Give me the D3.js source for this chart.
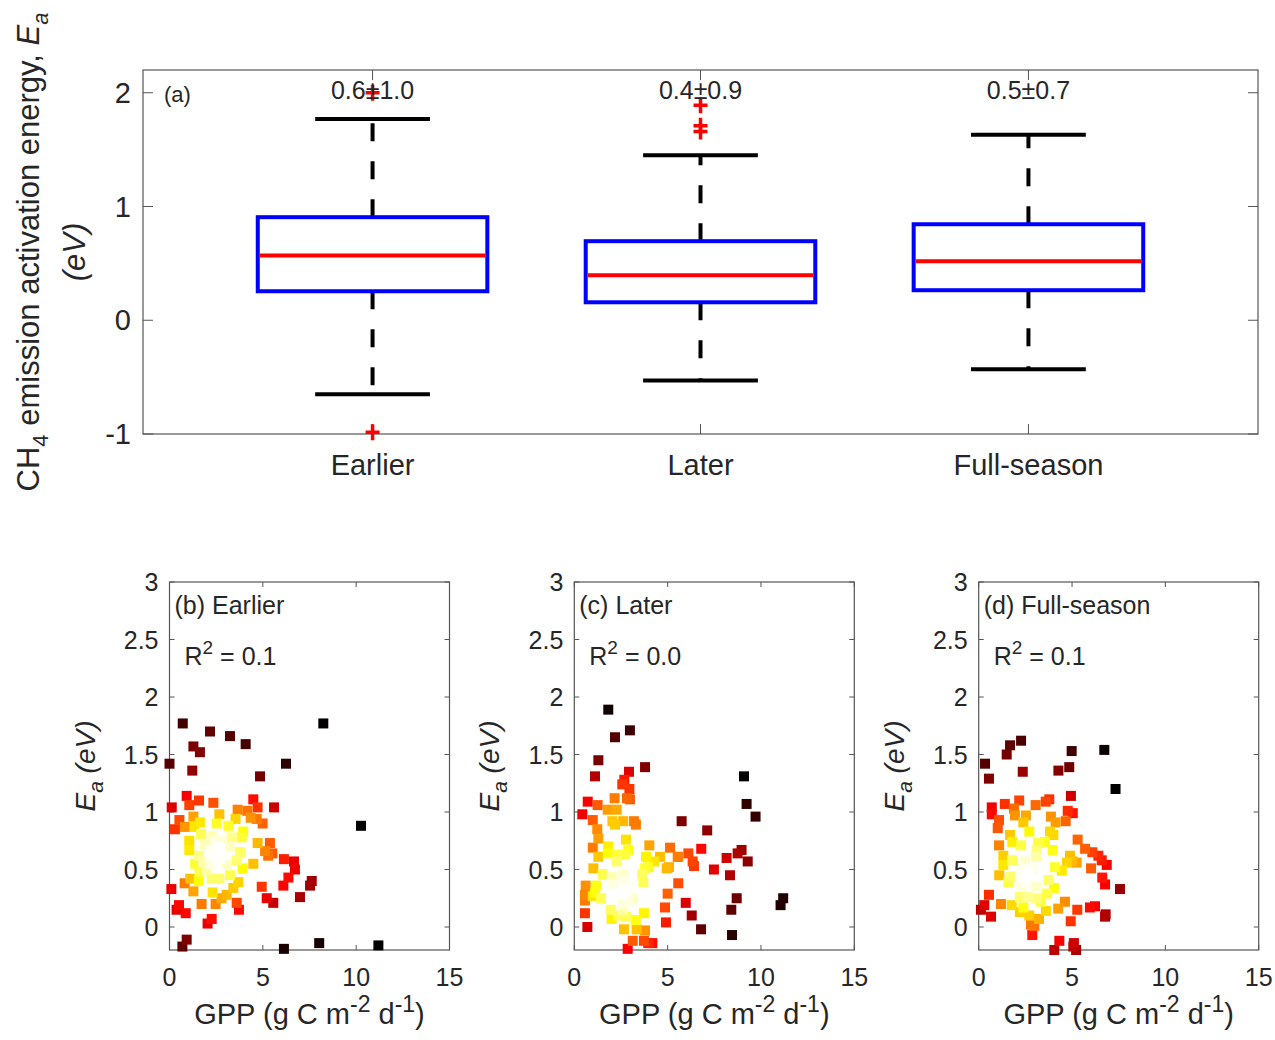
<!DOCTYPE html>
<meta charset="utf-8">
<title>CH4 activation energy</title>
<head>
  <script src="https://d3js.org/d3.v7.min.js"></script>
  <style>
    body { margin: 0; background: #fff; }
    text { font-family: "Liberation Sans", Arial, Helvetica, sans-serif; fill: #262626; }
  </style>
</head>
<body>
<div id="chart"></div>
<script>
// ---- panel (a) box plot data ----
var boxCats = ["Earlier", "Later", "Full-season"];
var boxQ1 = [0.255, 0.158, 0.264];
var boxMed = [0.57, 0.396, 0.519];
var boxQ3 = [0.906, 0.695, 0.844];
var whiskLo = [-0.65, -0.53, -0.43];
var whiskHi = [1.77, 1.45, 1.63];
var boxOutliers = [[2.0, -0.985], [1.89, 1.71, 1.66], []];
var meanSd = ["0.6\u00b11.0", "0.4\u00b10.9", "0.5\u00b10.7"];
var boxYTicks = [-1, 0, 1, 2];

// ---- panels (b)-(d) scatter data: GPP (g C m-2 d-1) vs Ea (eV) ----
var earlierGPP = [0.71,2.17,3.24,4.08,1.28,1.63,0.0,1.22,6.24,4.85,
  0.92,1.58,1.06,2.35,0.12,4.49,4.72,5.60,3.65,4.17,
  2.67,0.53,1.28,1.63,0.29,0.83,2.53,3.15,3.54,4.35,
  4.67,4.99,3.95,1.33,1.69,2.26,2.79,3.33,3.87,1.06,
  4.72,5.38,5.12,5.51,5.29,1.06,3.78,1.58,2.17,2.70,
  3.24,3.60,1.37,2.17,3.06,2.70,4.49,6.13,6.67,6.72,
  3.92,1.60,3.24,6.37,1.11,2.26,2.67,1.56,3.69,7.62,
  7.53,0.81,0.10,4.94,6.10,1.28,2.31,3.42,3.06,2.79,
  6.99,5.21,5.56,1.72,2.47,0.51,0.38,0.87,3.60,3.72,
  2.26,2.04,0.92,0.69,6.13,8.02,11.19,8.24,10.26,
  1.9,2.2,2.5,1.8,2.4,2.9,2.0,2.6];
var earlierEa = [1.77,1.70,1.66,1.59,1.57,1.52,1.42,1.36,1.42,1.31,
  1.14,1.10,1.06,1.08,1.04,1.11,1.04,1.04,1.02,1.01,
  0.98,0.93,0.96,0.91,0.85,0.87,0.90,0.88,0.94,0.95,
  0.94,0.90,0.83,0.87,0.81,0.79,0.75,0.78,0.78,0.75,
  0.73,0.73,0.66,0.64,0.62,0.67,0.65,0.62,0.67,0.68,
  0.70,0.58,0.55,0.55,0.55,0.59,0.55,0.59,0.57,0.50,
  0.51,0.48,0.45,0.43,0.42,0.42,0.42,0.40,0.39,0.40,
  0.36,0.38,0.33,0.35,0.36,0.31,0.30,0.34,0.28,0.25,
  0.26,0.25,0.21,0.20,0.20,0.19,0.15,0.12,0.21,0.15,
  0.07,0.03,-0.11,-0.17,-0.19,-0.14,-0.16,1.77,0.88,
  0.72,0.62,0.57,0.57,0.75,0.62,0.50,0.70];

var laterGPP = [1.82,2.98,2.18,3.79,1.29,1.11,2.93,2.68,2.57,2.95,
  2.16,2.82,2.98,0.72,1.25,0.43,1.79,2.27,0.99,2.04,
  2.62,2.18,3.20,3.30,5.75,1.23,1.29,2.77,0.99,1.82,
  2.89,4.02,1.29,1.79,2.27,2.72,2.27,5.13,4.59,4.29,
  3.84,4.95,5.57,6.11,6.34,1.02,3.79,3.96,3.64,1.52,
  2.00,2.62,2.68,2.09,3.70,0.61,1.16,0.57,0.57,1.11,
  1.43,0.99,2.36,2.89,2.62,2.89,3.13,5.00,5.57,0.57,
  0.70,1.95,2.00,2.36,2.80,3.29,3.73,2.66,3.34,3.79,
  3.13,3.73,4.18,2.86,4.86,4.91,5.97,6.29,3.96,9.09,
  9.23,9.71,7.12,6.80,8.16,8.75,8.96,9.29,7.48,8.34,
  8.70,8.41,6.79,8.45,11.19,11.05,5.07,5.54,6.41,
  2.7,2.75,2.6,2.8,2.55];
var laterEa = [1.89,1.71,1.65,1.39,1.45,1.31,1.35,1.28,1.24,1.20,
  1.12,1.12,1.11,1.09,1.06,0.98,1.02,1.02,0.93,0.92,
  0.92,0.89,0.92,0.89,0.92,0.85,0.77,0.76,0.69,0.70,
  0.67,0.71,0.61,0.64,0.63,0.63,0.57,0.69,0.61,0.57,
  0.61,0.51,0.61,0.64,0.57,0.51,0.51,0.52,0.46,0.46,
  0.44,0.46,0.41,0.37,0.39,0.36,0.36,0.28,0.23,0.30,
  0.25,0.27,0.29,0.30,0.20,0.23,0.25,0.29,0.38,0.12,
  0.00,0.15,0.07,0.10,0.09,0.06,0.12,-0.02,-0.02,-0.03,
  -0.12,-0.12,-0.14,-0.19,0.17,0.04,0.21,0.10,-0.14,1.31,
  1.07,0.96,0.84,0.68,0.60,0.64,0.67,0.57,0.50,0.45,
  0.25,0.15,-0.02,-0.07,0.25,0.19,0.52,0.61,0.53,
  0.22,0.30,0.15,0.35,0.28];

var fullGPP = [2.27,1.68,1.50,4.98,6.73,0.34,0.55,2.36,4.27,4.85,
  7.33,4.94,2.17,1.40,0.70,0.70,1.89,3.05,3.59,3.78,
  4.77,5.04,3.87,4.12,4.66,1.09,1.94,2.53,1.02,2.39,
  1.68,2.71,3.82,4.00,3.55,3.19,1.09,1.80,2.27,5.30,
  5.70,6.09,6.41,6.59,6.86,3.96,3.11,3.07,1.32,2.48,
  1.80,4.89,5.02,5.25,4.72,4.45,4.09,6.02,1.32,1.10,
  1.68,2.30,2.66,2.39,2.93,1.59,2.30,3.07,3.73,6.62,
  6.77,7.57,4.03,3.65,2.21,2.66,3.11,3.32,0.55,1.19,
  1.77,2.39,2.21,3.60,4.62,4.26,5.28,5.96,6.23,6.80,
  6.77,0.30,0.12,0.66,2.71,3.23,2.80,2.98,4.93,2.87,
  4.32,4.05,5.10,5.07,5.22,
  2.45,2.55,2.35,2.6,2.5];
var fullEa = [1.62,1.58,1.50,1.53,1.54,1.42,1.29,1.35,1.36,1.39,
  1.20,1.14,1.10,1.07,1.04,0.98,1.03,1.06,1.09,1.11,
  1.01,0.99,0.96,0.91,0.92,0.93,0.97,0.97,0.86,0.91,
  0.80,0.83,0.83,0.80,0.74,0.73,0.71,0.74,0.71,0.76,
  0.68,0.65,0.62,0.58,0.54,0.67,0.67,0.61,0.62,0.57,
  0.58,0.62,0.57,0.56,0.56,0.49,0.52,0.51,0.54,0.45,
  0.44,0.48,0.46,0.44,0.51,0.39,0.36,0.35,0.41,0.43,
  0.37,0.33,0.34,0.29,0.26,0.26,0.25,0.22,0.28,0.20,
  0.19,0.17,0.13,0.14,0.22,0.16,0.15,0.17,0.18,0.11,
  0.09,0.19,0.15,0.09,0.10,0.07,0.02,0.01,0.05,-0.07,
  -0.12,-0.20,-0.14,-0.17,-0.20,
  0.48,0.42,0.52,0.50,0.38];

var scatterLabels = ["(b) Earlier", "(c) Later", "(d) Full-season"];
var r2Values = ["0.1", "0.0", "0.1"];
var scatterXTicks = [0, 5, 10, 15];
var scatterYTicks = [0, 0.5, 1, 1.5, 2, 2.5, 3];

var W = 1275, H = 1040;
var svg = d3.select("#chart").append("svg")
  .attr("width", W).attr("height", H);

var axisColor = "#555";

// ================= panel (a) =================
var a = {left: 143, right: 1258, top: 70, bottom: 434};
var xa = d3.scaleLinear().domain([0.3, 3.7]).range([a.left, a.right]);
var ya = d3.scaleLinear().domain([-1, 2.2]).range([a.bottom, a.top]);
var ga = svg.append("g");

ga.append("rect")
  .attr("x", a.left).attr("y", a.top)
  .attr("width", a.right - a.left).attr("height", a.bottom - a.top)
  .attr("fill", "none").attr("stroke", axisColor).attr("stroke-width", 1.2);

// ticks inside, all four sides
boxYTicks.forEach(function(t) {
  ga.append("line").attr("x1", a.left).attr("x2", a.left + 10)
    .attr("y1", ya(t)).attr("y2", ya(t)).attr("stroke", axisColor);
  ga.append("line").attr("x1", a.right).attr("x2", a.right - 10)
    .attr("y1", ya(t)).attr("y2", ya(t)).attr("stroke", axisColor);
  ga.append("text").attr("x", a.left - 12).attr("y", ya(t))
    .attr("text-anchor", "end").attr("dominant-baseline", "central")
    .style("font-size", "29px").text(t);
});
boxCats.forEach(function(c, i) {
  var cx = xa(i + 1);
  ga.append("line").attr("x1", cx).attr("x2", cx)
    .attr("y1", a.bottom).attr("y2", a.bottom - 10).attr("stroke", axisColor);
  ga.append("line").attr("x1", cx).attr("x2", cx)
    .attr("y1", a.top).attr("y2", a.top + 10).attr("stroke", axisColor);
  ga.append("text").attr("x", cx).attr("y", 475)
    .attr("text-anchor", "middle").style("font-size", "29px").text(c);
});

// boxes
var boxHalf = 0.35, capHalf = 0.175;
boxCats.forEach(function(c, i) {
  var cx = xa(i + 1);
  // whiskers
  ga.append("line").attr("x1", cx).attr("x2", cx)
    .attr("y1", ya(boxQ3[i])).attr("y2", ya(whiskHi[i]))
    .attr("stroke", "#000").attr("stroke-width", 4).attr("stroke-dasharray", "18,20");
  ga.append("line").attr("x1", cx).attr("x2", cx)
    .attr("y1", ya(boxQ1[i])).attr("y2", ya(whiskLo[i]))
    .attr("stroke", "#000").attr("stroke-width", 4).attr("stroke-dasharray", "18,20");
  [whiskHi[i], whiskLo[i]].forEach(function(v) {
    ga.append("line").attr("x1", xa(i + 1 - capHalf)).attr("x2", xa(i + 1 + capHalf))
      .attr("y1", ya(v)).attr("y2", ya(v))
      .attr("stroke", "#000").attr("stroke-width", 4);
  });
  ga.append("rect")
    .attr("x", xa(i + 1 - boxHalf)).attr("y", ya(boxQ3[i]))
    .attr("width", xa(i + 1 + boxHalf) - xa(i + 1 - boxHalf))
    .attr("height", ya(boxQ1[i]) - ya(boxQ3[i]))
    .attr("fill", "none").attr("stroke", "#0000ff").attr("stroke-width", 4);
  ga.append("line").attr("x1", xa(i + 1 - boxHalf) + 2).attr("x2", xa(i + 1 + boxHalf) - 2)
    .attr("y1", ya(boxMed[i])).attr("y2", ya(boxMed[i]))
    .attr("stroke", "#ff0000").attr("stroke-width", 4);
  boxOutliers[i].forEach(function(v) {
    var oy = ya(v);
    ga.append("path")
      .attr("d", "M" + (cx - 7) + "," + oy + "H" + (cx + 7) + "M" + cx + "," + (oy - 8) + "V" + (oy + 8))
      .attr("stroke", "#ff0000").attr("stroke-width", 3.5).attr("fill", "none");
  });
  ga.append("text").attr("x", cx).attr("y", 99)
    .attr("text-anchor", "middle").style("font-size", "25px").text(meanSd[i]);
});

ga.append("text").attr("x", 164).attr("y", 102).style("font-size", "22px").text("(a)");

// y label panel (a)
var ylab = ga.append("text")
  .attr("transform", "translate(39," + ((a.top + a.bottom) / 2) + ") rotate(-90)")
  .attr("text-anchor", "middle").style("font-size", "31px");
ylab.append("tspan").text("CH");
ylab.append("tspan").attr("dy", 9).style("font-size", "22px").text("4");
ylab.append("tspan").attr("dy", -9).text(" emission activation energy, ");
ylab.append("tspan").style("font-style", "italic").text("E");
ylab.append("tspan").attr("dy", 9).style("font-size", "22px").style("font-style", "italic").text("a");
ga.append("text")
  .attr("transform", "translate(85," + ((a.top + a.bottom) / 2) + ") rotate(-90)")
  .attr("text-anchor", "middle").style("font-size", "31px").style("font-style", "italic")
  .text("(eV)");

// ================= panels (b)-(d) =================
function hot(t) {
  t = Math.max(0, Math.min(1, t));
  var r = Math.min(1, t / 0.375);
  var g = Math.max(0, Math.min(1, (t - 0.375) / 0.375));
  var b = Math.max(0, (t - 0.75) / 0.25);
  return d3.rgb(r * 255, g * 255, b * 255).toString();
}

var panelLefts = [169.5, 574.3, 978.7];
var panelW = 280, pTop = 582, pBottom = 950;
var seriesX = [earlierGPP, laterGPP, fullGPP];
var seriesY = [earlierEa, laterEa, fullEa];

panelLefts.forEach(function(left, k) {
  var g = svg.append("g");
  var x = d3.scaleLinear().domain([0, 15]).range([left, left + panelW]);
  var y = d3.scaleLinear().domain([-0.2, 3]).range([pBottom, pTop]);

  g.append("rect").attr("x", left).attr("y", pTop)
    .attr("width", panelW).attr("height", pBottom - pTop)
    .attr("fill", "none").attr("stroke", axisColor).attr("stroke-width", 1.2);

  scatterXTicks.forEach(function(t) {
    g.append("line").attr("x1", x(t)).attr("x2", x(t))
      .attr("y1", pBottom).attr("y2", pBottom - 5).attr("stroke", axisColor);
    g.append("line").attr("x1", x(t)).attr("x2", x(t))
      .attr("y1", pTop).attr("y2", pTop + 5).attr("stroke", axisColor);
    g.append("text").attr("x", x(t)).attr("y", 986)
      .attr("text-anchor", "middle").style("font-size", "25px").text(t);
  });
  scatterYTicks.forEach(function(t) {
    g.append("line").attr("x1", left).attr("x2", left + 5)
      .attr("y1", y(t)).attr("y2", y(t)).attr("stroke", axisColor);
    g.append("line").attr("x1", left + panelW).attr("x2", left + panelW - 5)
      .attr("y1", y(t)).attr("y2", y(t)).attr("stroke", axisColor);
    g.append("text").attr("x", left - 11).attr("y", y(t))
      .attr("text-anchor", "end").attr("dominant-baseline", "central")
      .style("font-size", "25px").text(t);
  });

  // density colouring (kernel sum in screen space)
  var xs = seriesX[k], ys = seriesY[k];
  var pts = xs.map(function(v, i) { return {px: x(v), py: y(ys[i])}; });
  var bw = 22;
  pts.forEach(function(p) {
    p.d = d3.sum(pts, function(q) {
      var dx = p.px - q.px, dy = p.py - q.py;
      return Math.exp(-(dx * dx + dy * dy) / (2 * bw * bw));
    });
  });
  var ext = d3.extent(pts, function(p) { return p.d; });
  var cscale = d3.scaleLinear().domain(ext).range([0, 1]);
  pts.sort(function(p, q) { return p.d - q.d; });

  g.selectAll("rect.pt").data(pts).enter().append("rect")
    .attr("class", "pt")
    .attr("x", function(p) { return p.px - 5; })
    .attr("y", function(p) { return p.py - 5; })
    .attr("width", 10).attr("height", 10)
    .attr("fill", function(p) { return hot(Math.pow(cscale(p.d), 0.85)); });

  g.append("text").attr("x", left + 5).attr("y", 614)
    .style("font-size", "25px").text(scatterLabels[k]);
  var r2 = g.append("text").attr("x", left + 15).attr("y", 665).style("font-size", "25px");
  r2.append("tspan").text("R");
  r2.append("tspan").attr("dy", -11).style("font-size", "19px").text("2");
  r2.append("tspan").attr("dy", 11).text(" = " + r2Values[k]);

  var yl = g.append("text")
    .attr("transform", "translate(" + (left - 75) + "," + ((pTop + pBottom) / 2) + ") rotate(-90)")
    .attr("text-anchor", "middle").style("font-size", "28px");
  yl.append("tspan").style("font-style", "italic").text("E");
  yl.append("tspan").attr("dy", 8).style("font-size", "21px").style("font-style", "italic").text("a");
  yl.append("tspan").attr("dy", -8).style("font-style", "italic").text(" (eV)");

  var xl = g.append("text").attr("x", left + panelW / 2).attr("y", 1024)
    .attr("text-anchor", "middle").style("font-size", "29px");
  xl.append("tspan").text("GPP (g C m");
  xl.append("tspan").attr("dy", -12).style("font-size", "23px").text("-2");
  xl.append("tspan").attr("dy", 12).text(" d");
  xl.append("tspan").attr("dy", -12).style("font-size", "23px").text("-1");
  xl.append("tspan").attr("dy", 12).text(")");
});
</script>
</body>
